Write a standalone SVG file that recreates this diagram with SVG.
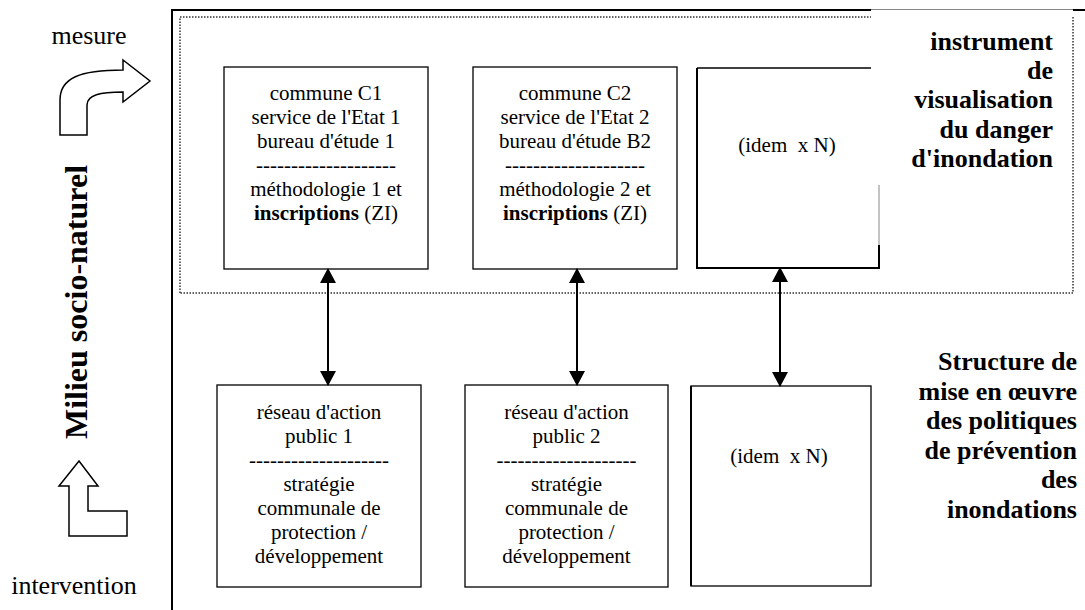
<svg xmlns="http://www.w3.org/2000/svg" width="1085" height="610" viewBox="0 0 1085 610" font-family="'Liberation Serif', 'Times New Roman', serif">
<defs>
<style>
text,tspan{font-family:"Liberation Serif","Times New Roman",serif;fill:#000}
.bx{font-size:21px;text-anchor:middle}
.lab{font-size:26px;text-anchor:middle}
.side{font-size:26px;font-weight:bold;text-anchor:end}
.box{fill:#fff;stroke:#000;stroke-width:1.3}
.dot{fill:none;stroke:#333;stroke-width:1.5;stroke-dasharray:1.5 1.5}
.con{stroke:#000;stroke-width:2;fill:none;marker-start:url(#ah);marker-end:url(#ah)}
</style>
<marker id="ah" viewBox="0 0 15 16" refX="14" refY="8" markerWidth="15" markerHeight="16" markerUnits="userSpaceOnUse" orient="auto-start-reverse">
<path d="M0,0 L15,8 L0,16 Z" fill="#000"/>
</marker>
</defs>
<rect width="1085" height="610" fill="#fff"/>
<g id="frame">
<path d="M172,610 V10 H871" fill="none" stroke="#000" stroke-width="2"/>
<line x1="871" y1="9.5" x2="1073" y2="9.5" stroke="#888" stroke-width="1.2"/>
<line x1="1073" y1="10" x2="1085" y2="10" stroke="#000" stroke-width="2"/>
<path class="dot" d="M180,293 V17 H871"/>
<path class="dot" d="M1073,17 V293 H180"/>
</g>
<g id="side-arrows">
<path d="M60,135 V100 C60,78 80,70 123,70 V60 L150,81 L123,102 V92 C100,92 87,95 87,105 V135 Z" fill="#fff" stroke="#000" stroke-width="1.5"/>
<path d="M79,461 L98,486 H88 V511 H127 V536 H69 V486 H59 Z" fill="#fff" stroke="#000" stroke-width="1.5"/>
<text class="lab" x="89" y="44">mesure</text>
<text class="lab" x="74" y="594">intervention</text>
<text x="87" y="302" transform="rotate(-90 87 302)" font-size="32" font-weight="bold" text-anchor="middle">Milieu socio-naturel</text>
</g>
<g id="label-instrument">
<text class="side"><tspan x="1053" y="50">instrument</tspan><tspan x="1053" y="79">de</tspan><tspan x="1053" y="108">visualisation</tspan><tspan x="1053" y="138">du danger</tspan><tspan x="1053" y="167">d'inondation</tspan></text>
</g>
<g id="label-structure">
<text class="side"><tspan x="1077" y="370">Structure de</tspan><tspan x="1077" y="399.5">mise en œuvre</tspan><tspan x="1077" y="429">des politiques</tspan><tspan x="1077" y="458.5">de prévention</tspan><tspan x="1077" y="488">des</tspan><tspan x="1077" y="517.5">inondations</tspan></text>
</g>
<g id="node-c1">
<rect class="box" x="224" y="67" width="204" height="202"/>
<text class="bx"><tspan x="326" y="100">commune C1</tspan><tspan x="326" y="124">service de l'Etat 1</tspan><tspan x="326" y="148">bureau d'étude 1</tspan><tspan x="326" y="172">--------------------</tspan><tspan x="326" y="196">méthodologie 1 et</tspan><tspan x="326" y="220"><tspan font-weight="bold">inscriptions</tspan> (ZI)</tspan></text>
</g>
<g id="node-c2">
<rect class="box" x="473" y="67" width="204" height="202"/>
<text class="bx"><tspan x="575" y="100">commune C2</tspan><tspan x="575" y="124">service de l'Etat 2</tspan><tspan x="575" y="148">bureau d'étude B2</tspan><tspan x="575" y="172">--------------------</tspan><tspan x="575" y="196">méthodologie 2 et</tspan><tspan x="575" y="220"><tspan font-weight="bold">inscriptions</tspan> (ZI)</tspan></text>
</g>
<g id="node-cn">
<rect x="697" y="68" width="182" height="200" fill="#fff" stroke="none"/>
<path d="M697,68 H871" fill="none" stroke="#000" stroke-width="1.3"/>
<path d="M697,68 V268 H879 V245" fill="none" stroke="#000" stroke-width="2"/>
<path d="M879,245 V185" fill="none" stroke="#888" stroke-width="1"/>
<text class="bx" x="787" y="152">(idem&#160; x N)</text>
</g>
<g id="node-r1">
<rect class="box" x="217" y="385" width="204" height="202"/>
<text class="bx"><tspan x="319" y="419">réseau d'action</tspan><tspan x="319" y="443">public 1</tspan><tspan x="319" y="467">--------------------</tspan><tspan x="319" y="491">stratégie</tspan><tspan x="319" y="515">communale de</tspan><tspan x="319" y="539">protection /</tspan><tspan x="319" y="563">développement</tspan></text>
</g>
<g id="node-r2">
<rect class="box" x="465" y="385" width="203" height="202"/>
<text class="bx"><tspan x="566.5" y="419">réseau d'action</tspan><tspan x="566.5" y="443">public 2</tspan><tspan x="566.5" y="467">--------------------</tspan><tspan x="566.5" y="491">stratégie</tspan><tspan x="566.5" y="515">communale de</tspan><tspan x="566.5" y="539">protection /</tspan><tspan x="566.5" y="563">développement</tspan></text>
</g>
<g id="node-rn">
<rect class="box" x="691" y="386" width="180" height="200" stroke-width="1.6"/>
<line x1="691" y1="386" x2="691" y2="586" stroke="#000" stroke-width="2"/>
<text class="bx" x="779" y="463">(idem&#160; x N)</text>
</g>
<g id="connectors">
<line class="con" x1="328" y1="269" x2="328" y2="385"/>
<line class="con" x1="577" y1="269" x2="577" y2="385"/>
<line class="con" x1="780" y1="268" x2="780" y2="386"/>
</g>
</svg>
